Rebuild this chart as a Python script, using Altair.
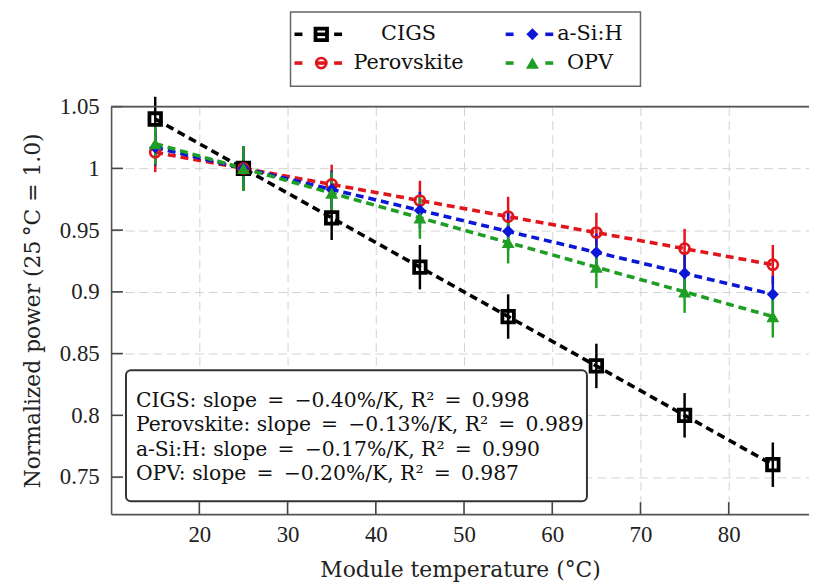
import altair as alt
import pandas as pd

# ---------------- data ----------------
temps = [15, 25, 35, 45, 55, 65, 75, 85]
series = ["CIGS", "Perovskite", "a-Si:H", "OPV"]
cigs = [1.040, 1.000, 0.960, 0.920, 0.880, 0.840, 0.800, 0.760]
perov = [1.013, 1.000, 0.987, 0.974, 0.961, 0.948, 0.935, 0.922]
asih = [1.017, 1.000, 0.983, 0.966, 0.949, 0.932, 0.915, 0.898]
opv = [1.020, 1.000, 0.980, 0.960, 0.940, 0.920, 0.900, 0.880]
err_cigs = [0.018, 0.018, 0.018, 0.018, 0.018, 0.018, 0.018, 0.018]
err_perov = [0.016, 0.016, 0.016, 0.016, 0.016, 0.016, 0.016, 0.016]
err_asih = [0.015, 0.015, 0.015, 0.015, 0.015, 0.015, 0.015, 0.015]
err_opv = [0.017, 0.018, 0.017, 0.017, 0.017, 0.017, 0.017, 0.017]
slopes = ["\u22120.40", "\u22120.13", "\u22120.17", "\u22120.20"]
r2 = ["0.998", "0.989", "0.990", "0.987"]
x_ticks = [20, 30, 40, 50, 60, 70, 80]
y_ticks = [0.75, 0.8, 0.85, 0.9, 0.95, 1.0, 1.05]

# ---------------- styles ----------------
colors = ["#000000", "#e0161c", "#0b16d6", "#1f9e24"]
shapes = ["square", "circle", "diamond", "triangle-up"]
filled = [False, False, True, True]
msize = [135, 105, 150, 170]
mstroke = [3.8, 2.6, 1, 1]
NUMFONT = "Liberation Serif"
FONT = "DejaVu Serif"
W, H = 704, 411

values = [cigs, perov, asih, opv]
errs = [err_cigs, err_perov, err_asih, err_opv]
rows = []
for s, v, e in zip(series, values, errs):
    for t, p, d in zip(temps, v, e):
        rows.append({"series": s, "T": t, "P": p, "lo": p - d, "hi": p + d})
df = pd.DataFrame(rows)

xscale = alt.Scale(domain=[10, 89.1], nice=False, zero=False)
yscale = alt.Scale(domain=[0.72, 1.05], nice=False, zero=False)
cscale = alt.Scale(domain=series, range=colors)

X_TITLE = "Module temperature (\u00b0C)"
Y_TITLE = "Normalized power (25\u2009\u00b0C = 1.0)"
x_axis = alt.Axis(values=x_ticks, title=X_TITLE, labelFont=NUMFONT, labelFontSize=23)
y_axis = alt.Axis(values=y_ticks, format="~g", title=Y_TITLE, labelFont=NUMFONT,
                  labelFontSize=23)


def X(field="T"):
    return alt.X(f"{field}:Q", scale=xscale, axis=x_axis)


def Y(field="P"):
    return alt.Y(f"{field}:Q", scale=yscale, axis=y_axis)


base = alt.Chart(df)

lines = base.mark_line(strokeDash=[8, 5], strokeWidth=3.6, strokeCap="butt").encode(
    x=X(), y=Y(),
    color=alt.Color("series:N", scale=cscale, legend=None),
    detail="series:N",
)

ebars = base.mark_rule(strokeWidth=2.5).encode(
    x=X(), y=Y("lo"), y2="hi:Q",
    color=alt.Color("series:N", scale=cscale, legend=None),
)

marker_layers = []
for i, s in enumerate(series):
    if filled[i]:
        mk = dict(shape=shapes[i], filled=True, size=msize[i], color=colors[i], opacity=1)
    else:
        mk = dict(shape=shapes[i], filled=False, size=msize[i], stroke=colors[i],
                  strokeWidth=mstroke[i], opacity=1)
    marker_layers.append(
        base.transform_filter(alt.datum.series == s).mark_point(**mk).encode(x=X(), y=Y())
    )

# inward ticks
xt = alt.Chart(pd.DataFrame({"T": x_ticks})).mark_rule(color="#444444", strokeWidth=1.6).encode(
    x=X(), y=alt.value(H), y2=alt.value(H - 12))
yt = alt.Chart(pd.DataFrame({"P": y_ticks})).mark_rule(color="#444444", strokeWidth=1.6).encode(
    y=Y(), x=alt.value(0), x2=alt.value(12))

one = pd.DataFrame({"a": [0]})
top_border = alt.Chart(one).mark_rule(color="#555555", strokeWidth=1.6).encode(
    x=alt.value(0), x2=alt.value(W), y=alt.value(0))

# annotation box
ann_lines = [f"{s}: slope\u2002=\u2002{sl}%/K, R\u00b2\u2002=\u2002{r}" for s, sl, r in zip(series, slopes, r2)]
ann_box = alt.Chart(one).mark_rect(fill="white", stroke="#333333", strokeWidth=2,
                                   cornerRadius=5).encode(
    x=alt.value(15), x2=alt.value(480), y=alt.value(266), y2=alt.value(398))
ann_text = alt.Chart(one).mark_text(align="left", baseline="middle", font=FONT,
                                    fontSize=20.5, color="#111111", lineHeight=24.5,
                                    text=ann_lines).encode(
    x=alt.value(25), y=alt.value(297))

# legend
leg_layers = [alt.Chart(one).mark_rect(fill="white", stroke="#666666", strokeWidth=1.5).encode(
    x=alt.value(181), x2=alt.value(534), y=alt.value(-95.5), y2=alt.value(-20.5))]
col_base = [185, 398]
label_cx = [300, 483]
row_y = [-73, -44]
for i, s in enumerate(series):
    c, r = i // 2, i % 2
    bx, yy = col_base[c], row_y[r]
    for a, b in [(bx, bx + 8), (bx + 40, bx + 48)]:
        leg_layers.append(alt.Chart(one).mark_rule(color=colors[i], strokeWidth=3.6).encode(
            x=alt.value(a), x2=alt.value(b), y=alt.value(yy)))
    if filled[i]:
        leg_layers.append(alt.Chart(one).mark_point(shape=shapes[i], filled=True, size=msize[i],
                                                    color=colors[i], opacity=1).encode(
            x=alt.value(bx + 27), y=alt.value(yy)))
    else:
        leg_layers.append(alt.Chart(one).mark_rule(color=colors[i], strokeWidth=3.6).encode(
            x=alt.value(bx + 21), x2=alt.value(bx + 33), y=alt.value(yy)))
        leg_layers.append(alt.Chart(one).mark_point(shape=shapes[i], filled=False, size=msize[i],
                                                    stroke=colors[i], strokeWidth=mstroke[i],
                                                    opacity=1).encode(
            x=alt.value(bx + 27), y=alt.value(yy)))
    leg_layers.append(alt.Chart(one).mark_text(align="center", baseline="middle", font=FONT,
                                               fontSize=21, color="#111111", text=s).encode(
        x=alt.value(label_cx[c]), y=alt.value(yy)))

chart = alt.layer(
    lines, ebars, *marker_layers, xt, yt, top_border, ann_box, ann_text, *leg_layers
).properties(
    width=W, height=H,
    autosize=alt.AutoSizeParams(type="none"),
    padding={"left": 104, "top": 97, "right": 0, "bottom": 70},
).configure_view(stroke=None).configure(background="white").configure_axis(
    grid=True, gridDash=[9, 5], gridColor="#d2d2d2", gridWidth=1,
    domainColor="#555555", domainWidth=1.6, ticks=False, tickSize=0,
    labelFont=NUMFONT, labelFontSize=23, labelColor="#222222",
    titleFont=FONT, titleFontSize=22, titleFontWeight="normal", titleColor="#222222",
).configure_axisX(
    labelPadding=10, titleY=56, titleBaseline="middle"
).configure_axisY(
    labelPadding=12, titleX=-79, titleY=H / 2,
    titleAngle=-90, titleAlign="center", titleBaseline="middle"
)

chart.save("out.html", embed_options={"renderer": "svg", "actions": False})
